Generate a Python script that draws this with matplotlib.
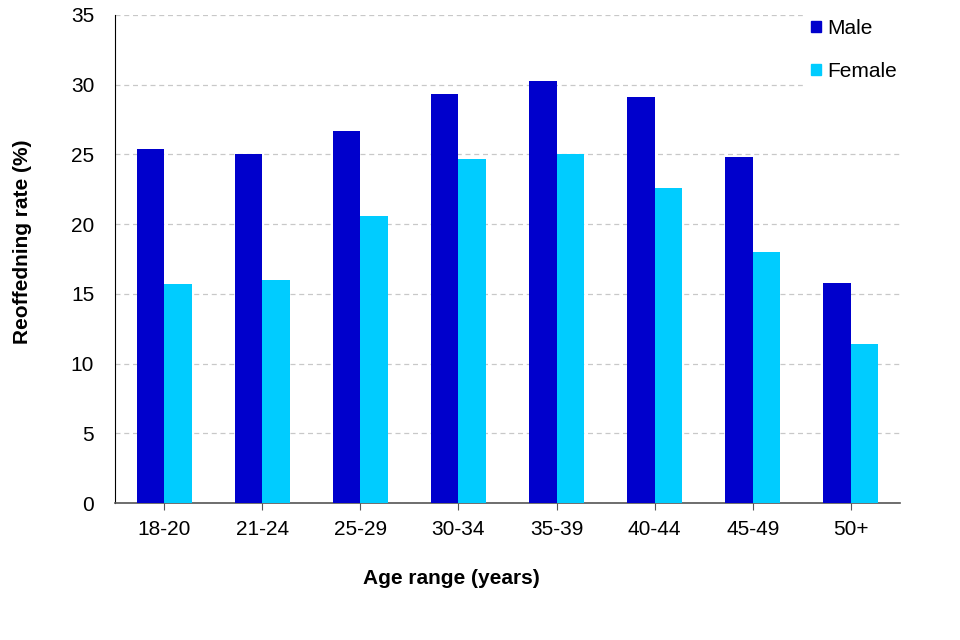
import numpy as np
import matplotlib.pyplot as plt
from matplotlib.patches import Patch

plt.rcParams['font.family'] = ['Liberation Sans', 'DejaVu Sans']

ages = ['18-20', '21-24', '25-29', '30-34', '35-39', '40-44', '45-49', '50+']
male = [25.4, 25.0, 26.7, 29.3, 30.3, 29.1, 24.8, 15.8]
female = [15.7, 16.0, 20.6, 24.7, 25.0, 22.6, 18.0, 11.4]

fig = plt.figure(figsize=(9.6, 6.4), dpi=100)
ax = fig.add_axes([0.1198, 0.214, 0.8177, 0.7626])

x = np.arange(len(ages))
w = 0.28
ax.bar(x - w / 2, male, w, color='#0000CC', zorder=3)
ax.bar(x + w / 2, female, w, color='#00CCFF', zorder=3)

ax.set_xlim(-0.5, len(ages) - 0.5)
ax.set_ylim(0, 35)
ax.set_yticks(range(0, 36, 5))
ax.set_xticks(x)
ax.set_xticklabels(ages)
ax.tick_params(axis='x', labelsize=15, length=5, color='#555555', pad=7)
ax.tick_params(axis='y', labelsize=15, length=0, pad=15)
ax.yaxis.grid(True, linestyle=(0, (4, 3)), color='#c8c8c8', linewidth=0.9, zorder=0)

for s in ['top', 'right']:
    ax.spines[s].set_visible(False)
ax.spines['left'].set_color('black')
ax.spines['bottom'].set_color('#555555')
ax.spines['bottom'].set_linewidth(1.2)

ax.set_xlabel('Age range (years)', fontsize=15, fontweight='bold')
ax.set_ylabel('Reoffedning rate (%)', fontsize=15, fontweight='bold')
ax.xaxis.set_label_coords(0.429, -0.135)
ax.yaxis.set_label_coords(-0.106, 0.535)

handles = [Patch(color='#0000CC', label='Male'), Patch(color='#00CCFF', label='Female')]
leg = ax.legend(handles=handles, loc='upper left', bbox_to_anchor=(0.863, 1.03),
                fontsize=15, frameon=True, framealpha=1, edgecolor='white',
                handlelength=0.48, handleheight=0.48, handletextpad=0.3,
                labelspacing=1.15, borderpad=0.4, fancybox=False)
leg.set_zorder(5)

fig.savefig('out.png', dpi=100)
